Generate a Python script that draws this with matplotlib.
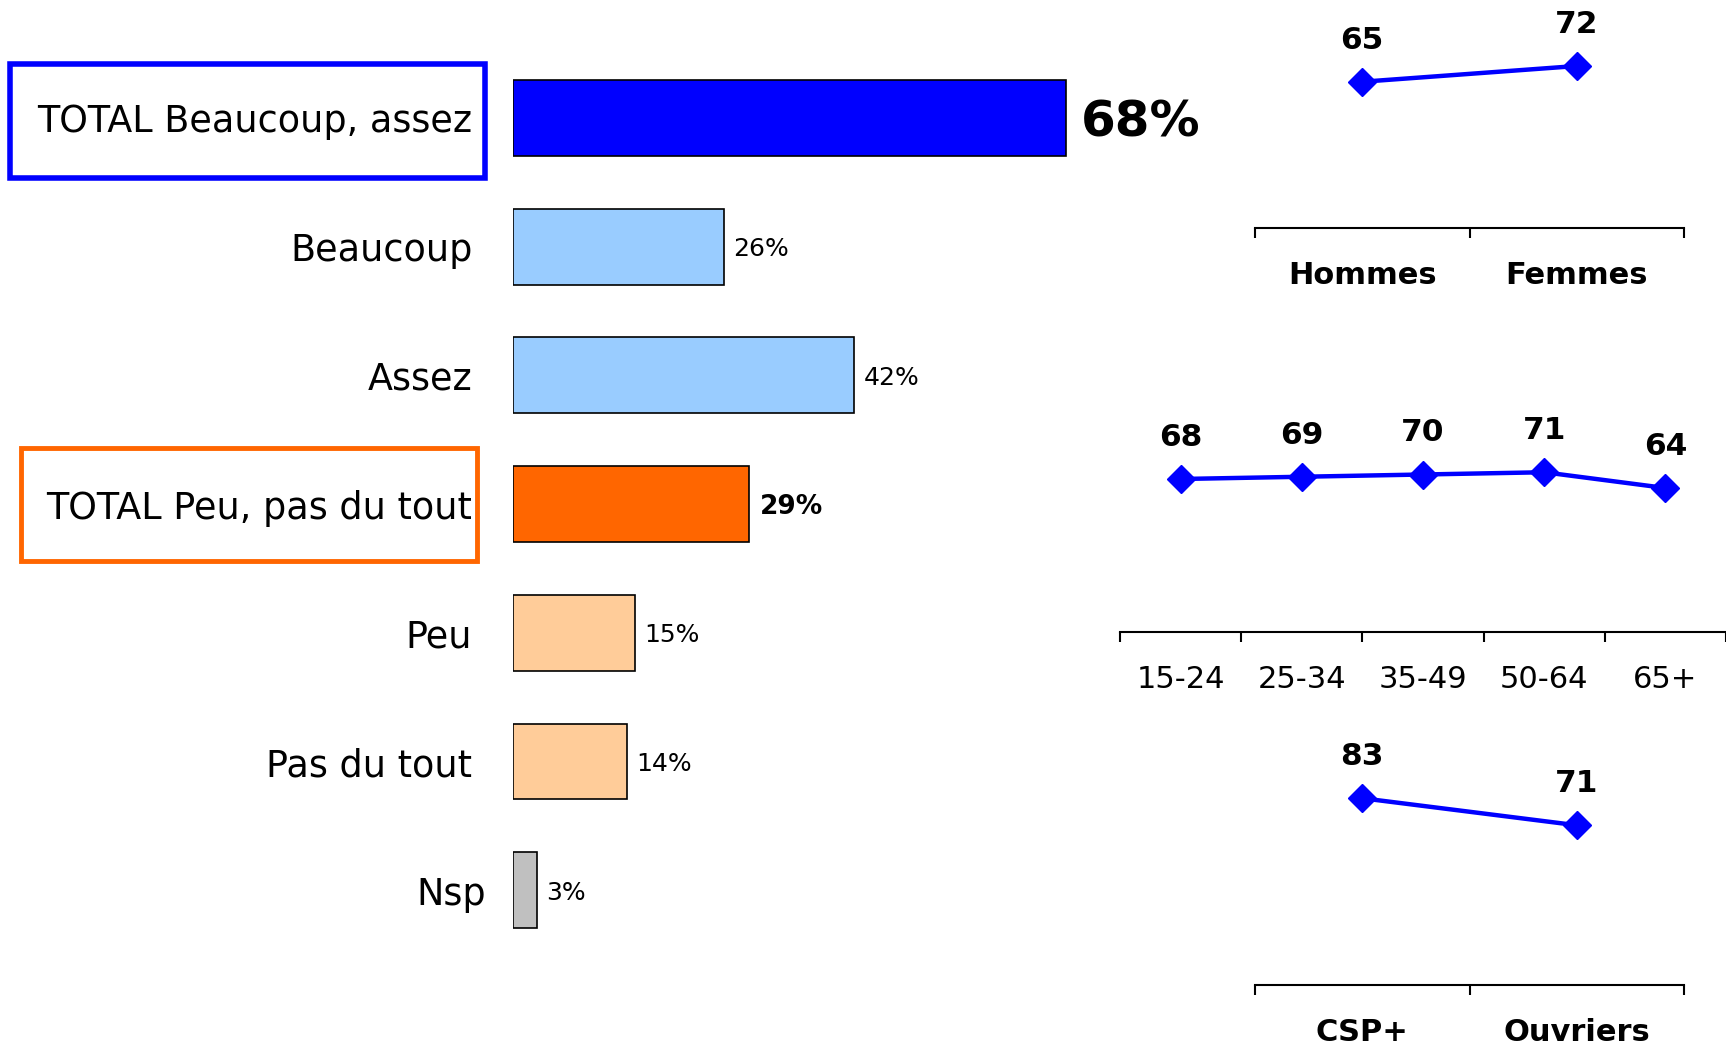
import numpy as np
import matplotlib
matplotlib.use('Agg')
import matplotlib.pyplot as plt
from matplotlib.patches import Rectangle

#%% Data
bar_labels = ['TOTAL Beaucoup, assez', 'Beaucoup', 'Assez', 'TOTAL Peu, pas du tout',
              'Peu', 'Pas du tout', 'Nsp']
bar_values = [68, 26, 42, 29, 15, 14, 3]
bar_colors = ['#0000FF', '#99CCFF', '#99CCFF', '#FF6600', '#FFCC99', '#FFCC99', '#C0C0C0']

sexe_labels = ['Hommes', 'Femmes']
sexe_values = [65, 72]
age_labels = ['15-24', '25-34', '35-49', '50-64', '65+']
age_values = [68, 69, 70, 71, 64]
csp_labels = ['CSP+', 'Ouvriers']
csp_values = [83, 71]

#%% Figure
plt.rcParams['font.family'] = ['DejaVu Sans']
W, H = 1726, 1046
fig = plt.figure(figsize=(W / 100, H / 100), dpi=100)


def px_axes(left, top, width, height):
    # axes placed with pixel values measured from the top-left corner
    return fig.add_axes([left / W, 1 - (top + height) / H, width / W, height / H])


#%% Bars
ax = px_axes(513, 53.6, 813, 901)
rows = np.arange(len(bar_values))
ax.barh(rows, bar_values, height=0.59, color=bar_colors, edgecolor='black', linewidth=1.2)
ax.set_xlim(0, 100)
ax.set_ylim(len(bar_values) - 0.5, -0.5)
ax.axis('off')

for i, (lab, v) in enumerate(zip(bar_labels, bar_values)):
    lx = -3.3 if lab == 'Nsp' else -5.0
    ax.text(lx, i, lab, ha='right', va='center_baseline', fontsize=26.3)
    if i == 0:
        ax.annotate(f'{v}%', (v, i), xytext=(11, 0), textcoords='offset points',
                    ha='left', va='center_baseline', fontsize=36, fontweight='bold')
    elif i == 3:
        ax.annotate(f'{v}%', (v, i), xytext=(8, 0), textcoords='offset points',
                    ha='left', va='center_baseline', fontsize=19, fontweight='bold')
    else:
        ax.annotate(f'{v}%', (v, i), xytext=(6.5, 0), textcoords='offset points',
                    ha='left', va='center_baseline', fontsize=18)

# frames round the two totals
ax.add_patch(Rectangle((-61.9, -0.42), 58.5, 0.886, fill=False,
                       edgecolor='#0000FF', linewidth=4, clip_on=False))
ax.add_patch(Rectangle((-60.5, 3 - 0.437), 56.1, 0.878, fill=False,
                       edgecolor='#FF6600', linewidth=3.5, clip_on=False))


#%% Line panels
def line_panel(left, top, width, labels, values, bold):
    a = px_axes(left, top, width, 225)
    x = np.arange(len(values))
    a.plot(x, values, color='#0000FF', linewidth=3.2, marker='D', markersize=14.5)
    for xi, v in zip(x, values):
        a.annotate(str(v), (xi, v), xytext=(0, 30), textcoords='offset points',
                   ha='center', va='center', fontsize=22.5, fontweight='bold')
    a.set_xlim(-0.5, len(values) - 0.5)
    a.set_ylim(0, 100)
    for s in ['top', 'right', 'left']:
        a.spines[s].set_visible(False)
    a.spines['bottom'].set_linewidth(1.5)
    a.set_yticks([])
    a.set_xticks(x)
    a.set_xticklabels(labels, fontsize=22, fontweight='bold' if bold else 'normal')
    a.set_xticks(np.arange(len(values) + 1) - 0.5, minor=True)
    a.tick_params(axis='x', which='major', length=0, pad=24)
    a.tick_params(axis='x', which='minor', length=7, width=1.5, direction='out')
    a.patch.set_alpha(0)
    return a


line_panel(1255, 3, 429, sexe_labels, sexe_values, True)
line_panel(1120, 407, 606, age_labels, age_values, False)
line_panel(1255, 760, 429, csp_labels, csp_values, True)

fig.savefig('out.png', dpi=100)
